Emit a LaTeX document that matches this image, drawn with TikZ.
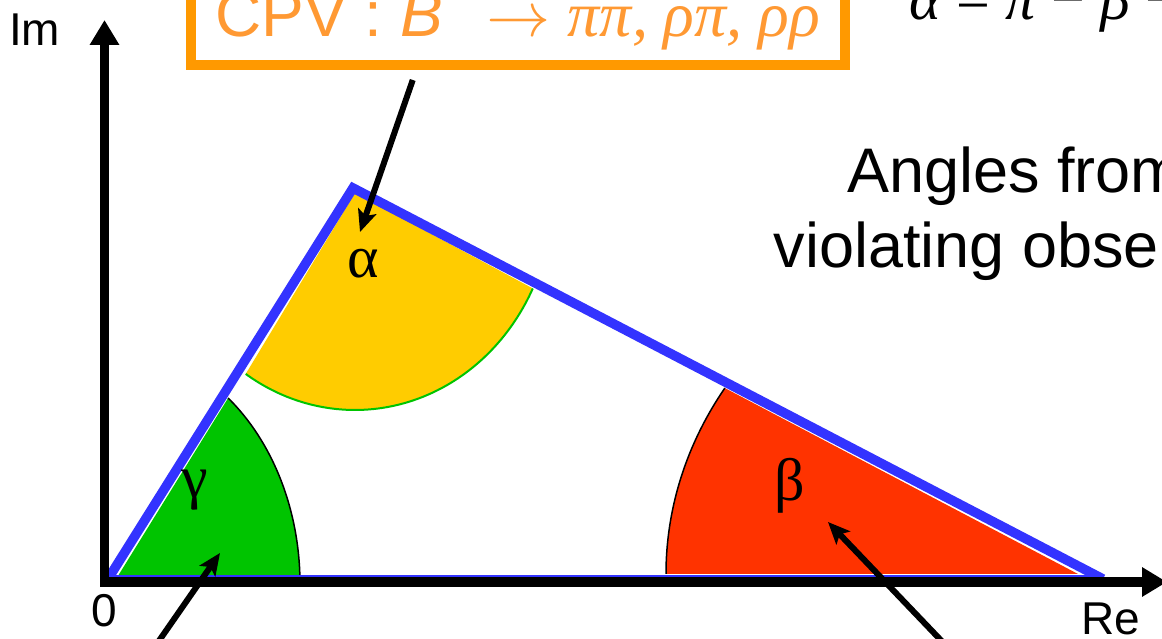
\documentclass[tikz,border=0pt]{standalone}
\usepackage{fontspec}
\usepackage{unicode-math}
\setmainfont{Liberation Sans}
\newfontfamily\timesfont{Liberation Serif}
\usetikzlibrary{arrows.meta}

\definecolor{sideblue}{RGB}{51,51,255}
\definecolor{boxorange}{RGB}{255,153,0}
\definecolor{textorange}{RGB}{255,153,51}
\definecolor{alphayellow}{RGB}{255,204,0}
\definecolor{gammagreen}{RGB}{0,196,0}
\definecolor{betared}{RGB}{255,51,0}

\begin{document}
\begin{tikzpicture}
    	[x=1pt, y=1pt,
    	side/.style={color=sideblue, line width=9.5pt, line join=miter},
    	axis/.style={line width=9.5pt, -{Triangle[length=25pt, width=28pt]}},
    	pointer/.style={line width=6pt, -{Stealth[length=22pt, width=19pt, inset=5pt]}},
    	axislabel/.style={font=\fontsize{46}{46}\selectfont, inner sep=0pt},
    	greek/.style={font=\timesfont\fontsize{60}{60}\selectfont, inner sep=0pt}]
    	\useasboundingbox (0,0) rectangle (1162,639);
    	\clip (0,0) rectangle (1162,639);

    	\coordinate (O) at (108,60);
    	\coordinate (A) at (353,451);
    	\coordinate (B) at (1103,60);

    	\fill (113,55) -- ++(52:187pt and 236pt)
    		arc[start angle=52, end angle=0, x radius=187pt, y radius=236pt] -- cycle [color=gammagreen];
    	\draw (113,55) ++(52:187pt and 236pt)
    		arc[start angle=52, end angle=0, x radius=187pt, y radius=236pt] [line width=1.5pt];

    	\fill (355,446) -- ++(236.5:198pt and 217pt)
    		arc[start angle=236.5, end angle=333.9, x radius=198pt, y radius=217pt] -- cycle [color=alphayellow];
    	\draw (355,446) ++(236.5:198pt and 217pt)
    		arc[start angle=236.5, end angle=333.9, x radius=198pt, y radius=217pt] [color=gammagreen, line width=2pt];

    	\fill (1078,65) -- ++(149:412pt and 361pt)
    		arc[start angle=149, end angle=180, x radius=412pt, y radius=361pt] -- cycle [color=betared];
    	\draw (1078,65) ++(149:412pt and 361pt)
    		arc[start angle=149, end angle=180, x radius=412pt, y radius=361pt] [line width=1.5pt];

    	\draw (B) -- (O) [side, line width=7.5pt];
    	\draw (O) -- (A) -- (B) [side];

    	\coordinate (ybot) at (104.5,53);
    	\coordinate (ytop) at (104.5,619);
    	\coordinate (xleft) at (100,57);
    	\coordinate (xright) at (1167,57);
    	\draw (ybot) -- (ytop) [axis];
    	\draw (xleft) -- (xright) [axis];

    	\node (im) at (9,593) [axislabel, anchor=base west] {Im};
    	\node (re) at (1081,4) [axislabel, anchor=base west] {Re};
    	\node (zero) at (104,12) [axislabel, anchor=base] {0};

    	\node (alpha) at (363,361) [greek, anchor=base] {α};
    	\node (gamma) at (195,141) [greek, anchor=base] {γ};
    	\node (beta) at (790,138) [greek, anchor=base] {β};

    	\node (cpv) at (186,569) [anchor=south west, draw=boxorange, line width=9.5pt, text=textorange,
    		minimum width=654pt, inner xsep=0pt, inner ysep=15pt, font=\fontsize{64}{64}\selectfont]
    		{CPV : \textit{B}\raisebox{15pt}{\textsuperscript{0}} $\rightarrow$ {\timesfont\itshape ππ, ρπ, ρρ}};
    	\node (sum) at (909,619) [anchor=base west, inner sep=0pt, font=\timesfont\fontsize{60}{60}\selectfont]
    		{\textit{α} = \textit{π} − \textit{β} − \textit{γ}};
    	\node (angles) at (1068,371) [anchor=base, align=center, font=\fontsize{63}{75}\selectfont]
    		{Angles from CP\\violating observables};

    	\coordinate (atip) at (360,407);
    	\coordinate (gtail) at (145,-22);
    	\coordinate (gtip) at (220,86);
    	\coordinate (btail) at (955,-16);
    	\coordinate (btip) at (828,117);
    	\draw ([shift={(-105,-10)}]cpv.south) -- (atip) [pointer];
    	\draw (gtail) -- (gtip) [pointer];
    	\draw (btail) -- (btip) [pointer];
\end{tikzpicture}
\end{document}
